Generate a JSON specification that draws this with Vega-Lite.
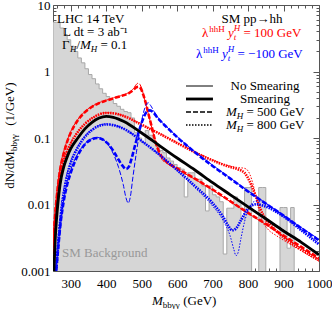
{
"$schema":"https://vega.github.io/schema/vega-lite/v6.json",
"width":266,"height":266,
"autosize":{"type":"none"},
"padding":{"left":53,"top":5,"right":13,"bottom":38},
"config":{"view":{"stroke":"#555","strokeWidth":1},"font":"Liberation Serif","text":{"font":"Liberation Serif","fontSize":13}},
"resolve":{"axis":{"x":"independent","y":"independent"}},
"datasets":{
"bkg":[{"m":250,"v":5.5},{"m":260,"v":5.5},{"m":270,"v":4.5},{"m":280,"v":3.6},{"m":290,"v":3.0},{"m":300,"v":2.4},{"m":310,"v":2.0},{"m":320,"v":1.6},{"m":330,"v":1.35},{"m":340,"v":1.1},{"m":350,"v":0.9},{"m":360,"v":0.78},{"m":370,"v":0.65},{"m":380,"v":0.55},{"m":390,"v":0.47},{"m":400,"v":0.42},{"m":410,"v":0.38},{"m":420,"v":0.33},{"m":430,"v":0.3},{"m":440,"v":0.27},{"m":450,"v":0.25},{"m":460,"v":0.24},{"m":470,"v":0.2},{"m":480,"v":0.12},{"m":490,"v":0.1},{"m":500,"v":0.085},{"m":510,"v":0.13},{"m":520,"v":0.11},{"m":530,"v":0.09},{"m":540,"v":0.075},{"m":550,"v":0.065},{"m":560,"v":0.06},{"m":570,"v":0.05},{"m":580,"v":0.045},{"m":590,"v":0.04},{"m":600,"v":0.036},{"m":610,"v":0.034},{"m":620,"v":0.013},{"m":630,"v":0.03},{"m":640,"v":0.03},{"m":650,"v":0.024},{"m":660,"v":0.024},{"m":670,"v":0.019},{"m":680,"v":0.008},{"m":690,"v":0.019},{"m":700,"v":0.014},{"m":710,"v":0.013},{"m":720,"v":0.011},{"m":730,"v":0.0018},{"m":740,"v":0.0088},{"m":750,"v":0.0088},{"m":760,"v":0.013},{"m":770,"v":0.011},{"m":780,"v":0.006},{"m":790,"v":0.018},{"m":800,"v":0.018},{"m":810,"v":0.0001},{"m":820,"v":0.0001},{"m":830,"v":0.018},{"m":840,"v":0.018},{"m":850,"v":0.0001},{"m":860,"v":0.0001},{"m":870,"v":0.0001},{"m":880,"v":0.0001},{"m":890,"v":0.009},{"m":900,"v":0.009},{"m":910,"v":0.0022},{"m":920,"v":0.009},{"m":930,"v":0.0001},{"m":1000,"v":0.0001}],
"sm0":[{"m":250,"v":0.0004},{"m":252,"v":0.0012},{"m":255,"v":0.003},{"m":258,"v":0.0058},{"m":261,"v":0.0095},{"m":265,"v":0.015},{"m":270,"v":0.023},{"m":280,"v":0.039},{"m":290,"v":0.055},{"m":300,"v":0.071},{"m":320,"v":0.102},{"m":340,"v":0.138},{"m":360,"v":0.172},{"m":380,"v":0.198},{"m":400,"v":0.21},{"m":420,"v":0.205},{"m":450,"v":0.178},{"m":500,"v":0.12},{"m":550,"v":0.078},{"m":600,"v":0.05},{"m":650,"v":0.033},{"m":700,"v":0.0215},{"m":750,"v":0.0142},{"m":800,"v":0.0094},{"m":850,"v":0.0062},{"m":900,"v":0.0041},{"m":950,"v":0.0027},{"m":1000,"v":0.0018}],
"sm1":[{"m":250,"v":0.0003},{"m":253,"v":0.0011},{"m":256,"v":0.0028},{"m":260,"v":0.006},{"m":265,"v":0.012},{"m":270,"v":0.02},{"m":280,"v":0.036},{"m":290,"v":0.052},{"m":300,"v":0.069},{"m":320,"v":0.1},{"m":340,"v":0.137},{"m":360,"v":0.172},{"m":380,"v":0.2},{"m":400,"v":0.212},{"m":420,"v":0.205},{"m":450,"v":0.177},{"m":500,"v":0.119},{"m":550,"v":0.077},{"m":600,"v":0.05},{"m":650,"v":0.033},{"m":700,"v":0.0213},{"m":750,"v":0.014},{"m":800,"v":0.0092},{"m":850,"v":0.0061},{"m":900,"v":0.004},{"m":950,"v":0.0027},{"m":1000,"v":0.00175}],
"r5t":[{"m":250,"v":0.0025},{"m":253,"v":0.005},{"m":256,"v":0.008},{"m":260,"v":0.014},{"m":270,"v":0.036},{"m":280,"v":0.062},{"m":290,"v":0.092},{"m":300,"v":0.125},{"m":320,"v":0.19},{"m":340,"v":0.25},{"m":360,"v":0.3},{"m":380,"v":0.34},{"m":400,"v":0.37},{"m":420,"v":0.4},{"m":440,"v":0.43},{"m":460,"v":0.47},{"m":475,"v":0.54},{"m":484,"v":0.63},{"m":490,"v":0.67},{"m":495,"v":0.64},{"m":500,"v":0.56},{"m":505,"v":0.45},{"m":510,"v":0.35},{"m":518,"v":0.24},{"m":525,"v":0.17},{"m":532,"v":0.12},{"m":540,"v":0.085},{"m":548,"v":0.062},{"m":557,"v":0.048},{"m":570,"v":0.042},{"m":600,"v":0.034},{"m":650,"v":0.024},{"m":700,"v":0.0165},{"m":750,"v":0.011},{"m":800,"v":0.0074},{"m":850,"v":0.005},{"m":900,"v":0.0033},{"m":950,"v":0.0022},{"m":1000,"v":0.0015}],
"r5s":[{"m":250,"v":0.0018},{"m":253,"v":0.004},{"m":256,"v":0.007},{"m":260,"v":0.012},{"m":270,"v":0.033},{"m":280,"v":0.058},{"m":290,"v":0.088},{"m":300,"v":0.12},{"m":320,"v":0.185},{"m":340,"v":0.245},{"m":360,"v":0.295},{"m":380,"v":0.335},{"m":400,"v":0.365},{"m":420,"v":0.395},{"m":440,"v":0.425},{"m":460,"v":0.46},{"m":475,"v":0.52},{"m":485,"v":0.58},{"m":492,"v":0.59},{"m":498,"v":0.55},{"m":505,"v":0.44},{"m":512,"v":0.33},{"m":520,"v":0.22},{"m":528,"v":0.15},{"m":536,"v":0.1},{"m":545,"v":0.07},{"m":555,"v":0.054},{"m":570,"v":0.044},{"m":600,"v":0.035},{"m":650,"v":0.0245},{"m":700,"v":0.0168},{"m":750,"v":0.0112},{"m":800,"v":0.0075},{"m":850,"v":0.0051},{"m":900,"v":0.0034},{"m":950,"v":0.0023},{"m":1000,"v":0.00155}],
"r8t":[{"m":250,"v":0.0018},{"m":253,"v":0.004},{"m":256,"v":0.0065},{"m":260,"v":0.011},{"m":270,"v":0.028},{"m":280,"v":0.047},{"m":290,"v":0.066},{"m":300,"v":0.085},{"m":320,"v":0.125},{"m":340,"v":0.165},{"m":360,"v":0.2},{"m":380,"v":0.228},{"m":400,"v":0.24},{"m":420,"v":0.237},{"m":450,"v":0.215},{"m":500,"v":0.16},{"m":550,"v":0.118},{"m":600,"v":0.085},{"m":650,"v":0.062},{"m":700,"v":0.047},{"m":740,"v":0.039},{"m":770,"v":0.036},{"m":790,"v":0.035},{"m":800,"v":0.032},{"m":810,"v":0.024},{"m":820,"v":0.015},{"m":830,"v":0.0085},{"m":840,"v":0.0057},{"m":855,"v":0.0043},{"m":880,"v":0.0034},{"m":900,"v":0.0029},{"m":950,"v":0.002},{"m":1000,"v":0.0014}],
"r8s":[{"m":250,"v":0.0014},{"m":253,"v":0.0033},{"m":256,"v":0.0058},{"m":260,"v":0.01},{"m":270,"v":0.026},{"m":280,"v":0.045},{"m":290,"v":0.064},{"m":300,"v":0.083},{"m":320,"v":0.123},{"m":340,"v":0.163},{"m":360,"v":0.198},{"m":380,"v":0.226},{"m":400,"v":0.238},{"m":420,"v":0.235},{"m":450,"v":0.213},{"m":500,"v":0.158},{"m":550,"v":0.116},{"m":600,"v":0.084},{"m":650,"v":0.061},{"m":700,"v":0.046},{"m":740,"v":0.038},{"m":770,"v":0.034},{"m":790,"v":0.03},{"m":805,"v":0.022},{"m":820,"v":0.014},{"m":835,"v":0.0085},{"m":850,"v":0.006},{"m":870,"v":0.0045},{"m":900,"v":0.0032},{"m":950,"v":0.0021},{"m":1000,"v":0.00145}],
"b5t":[{"m":255,"v":0.0006},{"m":258,"v":0.001},{"m":262,"v":0.0017},{"m":268,"v":0.0035},{"m":275,"v":0.0075},{"m":285,"v":0.016},{"m":300,"v":0.033},{"m":320,"v":0.058},{"m":340,"v":0.082},{"m":360,"v":0.098},{"m":375,"v":0.102},{"m":390,"v":0.096},{"m":405,"v":0.08},{"m":420,"v":0.058},{"m":435,"v":0.036},{"m":448,"v":0.02},{"m":456,"v":0.0125},{"m":462,"v":0.0105},{"m":468,"v":0.013},{"m":475,"v":0.025},{"m":485,"v":0.06},{"m":495,"v":0.13},{"m":505,"v":0.24},{"m":512,"v":0.31},{"m":518,"v":0.34},{"m":525,"v":0.31},{"m":535,"v":0.25},{"m":550,"v":0.19},{"m":575,"v":0.14},{"m":600,"v":0.105},{"m":650,"v":0.062},{"m":700,"v":0.039},{"m":750,"v":0.025},{"m":800,"v":0.016},{"m":850,"v":0.0105},{"m":900,"v":0.0069},{"m":950,"v":0.0045},{"m":1000,"v":0.003}],
"b5s":[{"m":255,"v":0.0005},{"m":259,"v":0.001},{"m":264,"v":0.002},{"m":270,"v":0.0045},{"m":280,"v":0.011},{"m":290,"v":0.02},{"m":300,"v":0.03},{"m":320,"v":0.055},{"m":340,"v":0.08},{"m":360,"v":0.096},{"m":375,"v":0.1},{"m":390,"v":0.095},{"m":405,"v":0.082},{"m":420,"v":0.064},{"m":435,"v":0.047},{"m":448,"v":0.037},{"m":456,"v":0.034},{"m":464,"v":0.037},{"m":472,"v":0.05},{"m":482,"v":0.08},{"m":495,"v":0.14},{"m":505,"v":0.2},{"m":515,"v":0.25},{"m":523,"v":0.26},{"m":532,"v":0.245},{"m":545,"v":0.2},{"m":560,"v":0.165},{"m":580,"v":0.13},{"m":600,"v":0.103},{"m":650,"v":0.061},{"m":700,"v":0.038},{"m":750,"v":0.0245},{"m":800,"v":0.0157},{"m":850,"v":0.0103},{"m":900,"v":0.0068},{"m":950,"v":0.0044},{"m":1000,"v":0.0029}],
"b8t":[{"m":255,"v":0.0006},{"m":258,"v":0.0012},{"m":262,"v":0.0025},{"m":267,"v":0.005},{"m":272,"v":0.009},{"m":280,"v":0.017},{"m":290,"v":0.03},{"m":300,"v":0.045},{"m":320,"v":0.075},{"m":340,"v":0.107},{"m":360,"v":0.135},{"m":380,"v":0.155},{"m":400,"v":0.163},{"m":420,"v":0.158},{"m":450,"v":0.138},{"m":500,"v":0.09},{"m":550,"v":0.056},{"m":600,"v":0.032},{"m":650,"v":0.018},{"m":700,"v":0.0095},{"m":730,"v":0.0057},{"m":750,"v":0.0033},{"m":760,"v":0.0021},{"m":766,"v":0.0017},{"m":772,"v":0.0019},{"m":780,"v":0.0031},{"m":790,"v":0.0055},{"m":805,"v":0.0092},{"m":820,"v":0.0112},{"m":835,"v":0.0112},{"m":850,"v":0.0102},{"m":900,"v":0.0068},{"m":950,"v":0.0042},{"m":1000,"v":0.0026}],
"b8s":[{"m":255,"v":0.0005},{"m":259,"v":0.001},{"m":264,"v":0.0022},{"m":270,"v":0.005},{"m":280,"v":0.014},{"m":290,"v":0.027},{"m":300,"v":0.042},{"m":320,"v":0.072},{"m":340,"v":0.104},{"m":360,"v":0.132},{"m":380,"v":0.152},{"m":400,"v":0.16},{"m":420,"v":0.156},{"m":450,"v":0.137},{"m":500,"v":0.09},{"m":550,"v":0.056},{"m":600,"v":0.033},{"m":650,"v":0.019},{"m":700,"v":0.0105},{"m":730,"v":0.0065},{"m":745,"v":0.0047},{"m":755,"v":0.0041},{"m":765,"v":0.0043},{"m":780,"v":0.0058},{"m":795,"v":0.008},{"m":810,"v":0.0096},{"m":825,"v":0.0101},{"m":845,"v":0.0095},{"m":900,"v":0.0066},{"m":950,"v":0.0041},{"m":1000,"v":0.0025}]
},
"layer":[
{"data":{"name":"bkg"},"mark":{"type":"area","interpolate":"step-after","fill":"#d6d6d6","stroke":"#a8a8a8","strokeWidth":1,"clip":true},
 "encoding":{
  "x":{"field":"m","type":"quantitative","scale":{"domain":[250,1000],"nice":false,"zero":false},
   "axis":{"orient":"bottom","title":null,"domain":false,"grid":false,"values":[260,280,300,320,340,360,380,400,420,440,460,480,500,520,540,560,580,600,620,640,660,680,700,720,740,760,780,800,820,840,860,880,900,920,940,960,980,1000],
   "tickSize":{"condition":{"test":"datum.value % 100 === 0","value":-6},"value":-3},"tickColor":"#555",
   "labelExpr":"datum.value % 100 === 0 ? datum.label : ''","labelPadding":12,"labelFontSize":13,"labelFont":"Liberation Serif","labelColor":"#000","labelFlush":false,"labelOverlap":false,"format":"d"}},
  "y":{"field":"v","type":"quantitative","scale":{"type":"log","domain":[0.001,10],"nice":false},
   "axis":{"orient":"left","title":null,"domain":false,"grid":false,"values":[0.001,0.002,0.003,0.004,0.005,0.006,0.007,0.008,0.009,0.01,0.02,0.03,0.04,0.05,0.06,0.07,0.08,0.09,0.1,0.2,0.3,0.4,0.5,0.6,0.7,0.8,0.9,1,2,3,4,5,6,7,8,9,10],
   "tickSize":{"condition":{"test":"indexof([0.001,0.01,0.1,1,10], datum.value) >= 0","value":-6},"value":-3},"tickColor":"#555",
   "labelExpr":"indexof([0.001,0.01,0.1,1,10], datum.value) >= 0 ? datum.label : ''","labelPadding":9,"labelFontSize":13,"labelFont":"Liberation Serif","labelColor":"#000","labelFlush":false,"labelOverlap":false,"format":"~g"}},
  "y2":{"datum":0.0001}}},
{"data":{"name":"r5t"},"mark":{"type":"line","color":"#ff0000","strokeWidth":1,"strokeDash":[5,2],"interpolate":"monotone","clip":true},"encoding":{"x":{"field":"m","type":"quantitative","scale":{"domain":[250,1000],"nice":false,"zero":false},"axis":null},"y":{"field":"v","type":"quantitative","scale":{"type":"log","domain":[0.001,10],"nice":false},"axis":null}}},
{"data":{"name":"r5s"},"mark":{"type":"line","color":"#ff0000","strokeWidth":2.6,"strokeDash":[5,2],"interpolate":"monotone","clip":true},"encoding":{"x":{"field":"m","type":"quantitative","scale":{"domain":[250,1000],"nice":false,"zero":false},"axis":null},"y":{"field":"v","type":"quantitative","scale":{"type":"log","domain":[0.001,10],"nice":false},"axis":null}}},
{"data":{"name":"r8t"},"mark":{"type":"line","color":"#ff0000","strokeWidth":1,"strokeDash":[1.5,1.5],"interpolate":"monotone","clip":true},"encoding":{"x":{"field":"m","type":"quantitative","scale":{"domain":[250,1000],"nice":false,"zero":false},"axis":null},"y":{"field":"v","type":"quantitative","scale":{"type":"log","domain":[0.001,10],"nice":false},"axis":null}}},
{"data":{"name":"r8s"},"mark":{"type":"line","color":"#ff0000","strokeWidth":2.6,"strokeDash":[1.5,1],"interpolate":"monotone","clip":true},"encoding":{"x":{"field":"m","type":"quantitative","scale":{"domain":[250,1000],"nice":false,"zero":false},"axis":null},"y":{"field":"v","type":"quantitative","scale":{"type":"log","domain":[0.001,10],"nice":false},"axis":null}}},
{"data":{"name":"b5t"},"mark":{"type":"line","color":"#0000ff","strokeWidth":1,"strokeDash":[5,2],"interpolate":"monotone","clip":true},"encoding":{"x":{"field":"m","type":"quantitative","scale":{"domain":[250,1000],"nice":false,"zero":false},"axis":null},"y":{"field":"v","type":"quantitative","scale":{"type":"log","domain":[0.001,10],"nice":false},"axis":null}}},
{"data":{"name":"b5s"},"mark":{"type":"line","color":"#0000ff","strokeWidth":2.6,"strokeDash":[5,2],"interpolate":"monotone","clip":true},"encoding":{"x":{"field":"m","type":"quantitative","scale":{"domain":[250,1000],"nice":false,"zero":false},"axis":null},"y":{"field":"v","type":"quantitative","scale":{"type":"log","domain":[0.001,10],"nice":false},"axis":null}}},
{"data":{"name":"b8t"},"mark":{"type":"line","color":"#0000ff","strokeWidth":1,"strokeDash":[1.5,1.5],"interpolate":"monotone","clip":true},"encoding":{"x":{"field":"m","type":"quantitative","scale":{"domain":[250,1000],"nice":false,"zero":false},"axis":null},"y":{"field":"v","type":"quantitative","scale":{"type":"log","domain":[0.001,10],"nice":false},"axis":null}}},
{"data":{"name":"b8s"},"mark":{"type":"line","color":"#0000ff","strokeWidth":2.6,"strokeDash":[1.5,1],"interpolate":"monotone","clip":true},"encoding":{"x":{"field":"m","type":"quantitative","scale":{"domain":[250,1000],"nice":false,"zero":false},"axis":null},"y":{"field":"v","type":"quantitative","scale":{"type":"log","domain":[0.001,10],"nice":false},"axis":null}}},
{"data":{"name":"sm0"},"mark":{"type":"line","color":"#000","strokeWidth":1,"interpolate":"monotone","clip":true},"encoding":{"x":{"field":"m","type":"quantitative","scale":{"domain":[250,1000],"nice":false,"zero":false},
   "axis":{"orient":"top","title":null,"domain":false,"grid":false,"labels":false,"values":[260,280,300,320,340,360,380,400,420,440,460,480,500,520,540,560,580,600,620,640,660,680,700,720,740,760,780,800,820,840,860,880,900,920,940,960,980,1000],"tickSize":{"condition":{"test":"datum.value % 100 === 0","value":-6},"value":-3},"tickColor":"#555"}},
 "y":{"field":"v","type":"quantitative","scale":{"type":"log","domain":[0.001,10],"nice":false},
   "axis":{"orient":"right","title":null,"domain":false,"grid":false,"labels":false,"values":[0.001,0.002,0.003,0.004,0.005,0.006,0.007,0.008,0.009,0.01,0.02,0.03,0.04,0.05,0.06,0.07,0.08,0.09,0.1,0.2,0.3,0.4,0.5,0.6,0.7,0.8,0.9,1,2,3,4,5,6,7,8,9,10],"tickSize":{"condition":{"test":"indexof([0.001,0.01,0.1,1,10], datum.value) >= 0","value":-6},"value":-3},"tickColor":"#555"}}}},
{"data":{"name":"sm1"},"mark":{"type":"line","color":"#000","strokeWidth":2.8,"interpolate":"monotone","clip":true},"encoding":{"x":{"field":"m","type":"quantitative","scale":{"domain":[250,1000],"nice":false,"zero":false},"axis":null},"y":{"field":"v","type":"quantitative","scale":{"type":"log","domain":[0.001,10],"nice":false},"axis":null}}},
{"data":{"values":[{}]},"mark":{"type":"rule","color":"#000","strokeWidth":1},"encoding":{"x":{"datum":625,"type":"quantitative","scale":{"domain":[250,1000],"nice":false,"zero":false},"axis":null},"x2":{"datum":701},"y":{"datum":0.605,"type":"quantitative","scale":{"type":"log","domain":[0.001,10],"nice":false},"axis":null}}},
{"data":{"values":[{}]},"mark":{"type":"rule","color":"#000","strokeWidth":2.8},"encoding":{"x":{"datum":625,"type":"quantitative","scale":{"domain":[250,1000],"nice":false,"zero":false},"axis":null},"x2":{"datum":701},"y":{"datum":0.386,"type":"quantitative","scale":{"type":"log","domain":[0.001,10],"nice":false},"axis":null}}},
{"data":{"values":[{}]},"mark":{"type":"rule","color":"#000","strokeWidth":1.5,"strokeDash":[5,2]},"encoding":{"x":{"datum":625,"type":"quantitative","scale":{"domain":[250,1000],"nice":false,"zero":false},"axis":null},"x2":{"datum":701},"y":{"datum":0.246,"type":"quantitative","scale":{"type":"log","domain":[0.001,10],"nice":false},"axis":null}}},
{"data":{"values":[{}]},"mark":{"type":"rule","color":"#000","strokeWidth":1.5,"strokeDash":[1.5,1.5]},"encoding":{"x":{"datum":625,"type":"quantitative","scale":{"domain":[250,1000],"nice":false,"zero":false},"axis":null},"x2":{"datum":701},"y":{"datum":0.157,"type":"quantitative","scale":{"type":"log","domain":[0.001,10],"nice":false},"axis":null}}},
{"data":{"values":[{}]},"mark":{"type":"text","text":"LHC 14 TeV","align":"left","baseline":"alphabetic"},"encoding":{"x":{"datum":261.3,"type":"quantitative","scale":{"domain":[250,1000],"nice":false,"zero":false},"axis":null},"y":{"datum":5.36,"type":"quantitative","scale":{"type":"log","domain":[0.001,10],"nice":false},"axis":null}}},
{"data":{"values":[{}]},"mark":{"type":"text","text":"L dt = 3 ab⁻¹","align":"left","baseline":"alphabetic"},"encoding":{"x":{"datum":278.2,"type":"quantitative","scale":{"domain":[250,1000],"nice":false,"zero":false},"axis":null},"y":{"datum":3.42,"type":"quantitative","scale":{"type":"log","domain":[0.001,10],"nice":false},"axis":null}}},
{"data":{"values":[{}]},"mark":{"type":"text","text":"Γ","align":"left","baseline":"alphabetic"},"encoding":{"x":{"datum":275.4,"type":"quantitative","scale":{"domain":[250,1000],"nice":false,"zero":false},"axis":null},"y":{"datum":2.18,"type":"quantitative","scale":{"type":"log","domain":[0.001,10],"nice":false},"axis":null}}},
{"data":{"values":[{}]},"mark":{"type":"text","text":"H","align":"left","baseline":"alphabetic","fontSize":9,"fontStyle":"italic"},"encoding":{"x":{"datum":297.6,"type":"quantitative","scale":{"domain":[250,1000],"nice":false,"zero":false},"axis":null},"y":{"datum":1.965,"type":"quantitative","scale":{"type":"log","domain":[0.001,10],"nice":false},"axis":null}}},
{"data":{"values":[{}]},"mark":{"type":"text","text":"/","align":"left","baseline":"alphabetic"},"encoding":{"x":{"datum":316,"type":"quantitative","scale":{"domain":[250,1000],"nice":false,"zero":false},"axis":null},"y":{"datum":2.18,"type":"quantitative","scale":{"type":"log","domain":[0.001,10],"nice":false},"axis":null}}},
{"data":{"values":[{}]},"mark":{"type":"text","text":"M","align":"left","baseline":"alphabetic","fontStyle":"italic"},"encoding":{"x":{"datum":326.1,"type":"quantitative","scale":{"domain":[250,1000],"nice":false,"zero":false},"axis":null},"y":{"datum":2.18,"type":"quantitative","scale":{"type":"log","domain":[0.001,10],"nice":false},"axis":null}}},
{"data":{"values":[{}]},"mark":{"type":"text","text":"H","align":"left","baseline":"alphabetic","fontSize":9,"fontStyle":"italic"},"encoding":{"x":{"datum":356.6,"type":"quantitative","scale":{"domain":[250,1000],"nice":false,"zero":false},"axis":null},"y":{"datum":1.965,"type":"quantitative","scale":{"type":"log","domain":[0.001,10],"nice":false},"axis":null}}},
{"data":{"values":[{}]},"mark":{"type":"text","text":"= 0.1","align":"left","baseline":"alphabetic"},"encoding":{"x":{"datum":383.9,"type":"quantitative","scale":{"domain":[250,1000],"nice":false,"zero":false},"axis":null},"y":{"datum":2.18,"type":"quantitative","scale":{"type":"log","domain":[0.001,10],"nice":false},"axis":null}}},
{"data":{"values":[{}]},"mark":{"type":"text","text":"SM pp→hh","align":"center","baseline":"alphabetic"},"encoding":{"x":{"datum":811.1,"type":"quantitative","scale":{"domain":[250,1000],"nice":false,"zero":false},"axis":null},"y":{"datum":5.36,"type":"quantitative","scale":{"type":"log","domain":[0.001,10],"nice":false},"axis":null}}},
{"data":{"values":[{}]},"mark":{"type":"text","text":"λ","align":"left","baseline":"alphabetic","color":"#ff0000"},"encoding":{"x":{"datum":670.1,"type":"quantitative","scale":{"domain":[250,1000],"nice":false,"zero":false},"axis":null},"y":{"datum":3.3,"type":"quantitative","scale":{"type":"log","domain":[0.001,10],"nice":false},"axis":null}}},
{"data":{"values":[{}]},"mark":{"type":"text","text":"hhH","align":"left","baseline":"alphabetic","fontSize":9,"color":"#ff0000"},"encoding":{"x":{"datum":690.4,"type":"quantitative","scale":{"domain":[250,1000],"nice":false,"zero":false},"axis":null},"y":{"datum":3.93,"type":"quantitative","scale":{"type":"log","domain":[0.001,10],"nice":false},"axis":null}}},
{"data":{"values":[{}]},"mark":{"type":"text","text":"y","align":"left","baseline":"alphabetic","fontStyle":"italic","color":"#ff0000"},"encoding":{"x":{"datum":743.4,"type":"quantitative","scale":{"domain":[250,1000],"nice":false,"zero":false},"axis":null},"y":{"datum":3.3,"type":"quantitative","scale":{"type":"log","domain":[0.001,10],"nice":false},"axis":null}}},
{"data":{"values":[{}]},"mark":{"type":"text","text":"t","align":"left","baseline":"alphabetic","fontSize":9,"fontStyle":"italic","color":"#ff0000"},"encoding":{"x":{"datum":759.8,"type":"quantitative","scale":{"domain":[250,1000],"nice":false,"zero":false},"axis":null},"y":{"datum":2.977,"type":"quantitative","scale":{"type":"log","domain":[0.001,10],"nice":false},"axis":null}}},
{"data":{"values":[{}]},"mark":{"type":"text","text":"H","align":"left","baseline":"alphabetic","fontSize":9,"fontStyle":"italic","color":"#ff0000"},"encoding":{"x":{"datum":759.8,"type":"quantitative","scale":{"domain":[250,1000],"nice":false,"zero":false},"axis":null},"y":{"datum":4.06,"type":"quantitative","scale":{"type":"log","domain":[0.001,10],"nice":false},"axis":null}}},
{"data":{"values":[{}]},"mark":{"type":"text","text":"= 100 GeV","align":"left","baseline":"alphabetic","color":"#ff0000"},"encoding":{"x":{"datum":787.1,"type":"quantitative","scale":{"domain":[250,1000],"nice":false,"zero":false},"axis":null},"y":{"datum":3.3,"type":"quantitative","scale":{"type":"log","domain":[0.001,10],"nice":false},"axis":null}}},
{"data":{"values":[{}]},"mark":{"type":"text","text":"λ","align":"left","baseline":"alphabetic","color":"#0000ff"},"encoding":{"x":{"datum":653.2,"type":"quantitative","scale":{"domain":[250,1000],"nice":false,"zero":false},"axis":null},"y":{"datum":1.596,"type":"quantitative","scale":{"type":"log","domain":[0.001,10],"nice":false},"axis":null}}},
{"data":{"values":[{}]},"mark":{"type":"text","text":"hhH","align":"left","baseline":"alphabetic","fontSize":9,"color":"#0000ff"},"encoding":{"x":{"datum":673.5,"type":"quantitative","scale":{"domain":[250,1000],"nice":false,"zero":false},"axis":null},"y":{"datum":1.898,"type":"quantitative","scale":{"type":"log","domain":[0.001,10],"nice":false},"axis":null}}},
{"data":{"values":[{}]},"mark":{"type":"text","text":"y","align":"left","baseline":"alphabetic","fontStyle":"italic","color":"#0000ff"},"encoding":{"x":{"datum":726.5,"type":"quantitative","scale":{"domain":[250,1000],"nice":false,"zero":false},"axis":null},"y":{"datum":1.596,"type":"quantitative","scale":{"type":"log","domain":[0.001,10],"nice":false},"axis":null}}},
{"data":{"values":[{}]},"mark":{"type":"text","text":"t","align":"left","baseline":"alphabetic","fontSize":9,"fontStyle":"italic","color":"#0000ff"},"encoding":{"x":{"datum":742.8,"type":"quantitative","scale":{"domain":[250,1000],"nice":false,"zero":false},"axis":null},"y":{"datum":1.438,"type":"quantitative","scale":{"type":"log","domain":[0.001,10],"nice":false},"axis":null}}},
{"data":{"values":[{}]},"mark":{"type":"text","text":"H","align":"left","baseline":"alphabetic","fontSize":9,"fontStyle":"italic","color":"#0000ff"},"encoding":{"x":{"datum":742.8,"type":"quantitative","scale":{"domain":[250,1000],"nice":false,"zero":false},"axis":null},"y":{"datum":1.965,"type":"quantitative","scale":{"type":"log","domain":[0.001,10],"nice":false},"axis":null}}},
{"data":{"values":[{}]},"mark":{"type":"text","text":"= −100 GeV","align":"left","baseline":"alphabetic","color":"#0000ff"},"encoding":{"x":{"datum":770.2,"type":"quantitative","scale":{"domain":[250,1000],"nice":false,"zero":false},"axis":null},"y":{"datum":1.596,"type":"quantitative","scale":{"type":"log","domain":[0.001,10],"nice":false},"axis":null}}},
{"data":{"values":[{}]},"mark":{"type":"text","text":"No Smearing","align":"center","baseline":"alphabetic"},"encoding":{"x":{"datum":847.7,"type":"quantitative","scale":{"domain":[250,1000],"nice":false,"zero":false},"axis":null},"y":{"datum":0.522,"type":"quantitative","scale":{"type":"log","domain":[0.001,10],"nice":false},"axis":null}}},
{"data":{"values":[{}]},"mark":{"type":"text","text":"Smearing","align":"center","baseline":"alphabetic"},"encoding":{"x":{"datum":847.7,"type":"quantitative","scale":{"domain":[250,1000],"nice":false,"zero":false},"axis":null},"y":{"datum":0.3324,"type":"quantitative","scale":{"type":"log","domain":[0.001,10],"nice":false},"axis":null}}},
{"data":{"values":[{}]},"mark":{"type":"text","text":"M","align":"left","baseline":"alphabetic","fontStyle":"italic"},"encoding":{"x":{"datum":737.8,"type":"quantitative","scale":{"domain":[250,1000],"nice":false,"zero":false},"axis":null},"y":{"datum":0.212,"type":"quantitative","scale":{"type":"log","domain":[0.001,10],"nice":false},"axis":null}}},
{"data":{"values":[{}]},"mark":{"type":"text","text":"H","align":"left","baseline":"alphabetic","fontSize":9,"fontStyle":"italic"},"encoding":{"x":{"datum":768.2,"type":"quantitative","scale":{"domain":[250,1000],"nice":false,"zero":false},"axis":null},"y":{"datum":0.191,"type":"quantitative","scale":{"type":"log","domain":[0.001,10],"nice":false},"axis":null}}},
{"data":{"values":[{}]},"mark":{"type":"text","text":"= 500 GeV","align":"left","baseline":"alphabetic"},"encoding":{"x":{"datum":795.6,"type":"quantitative","scale":{"domain":[250,1000],"nice":false,"zero":false},"axis":null},"y":{"datum":0.212,"type":"quantitative","scale":{"type":"log","domain":[0.001,10],"nice":false},"axis":null}}},
{"data":{"values":[{}]},"mark":{"type":"text","text":"M","align":"left","baseline":"alphabetic","fontStyle":"italic"},"encoding":{"x":{"datum":737.8,"type":"quantitative","scale":{"domain":[250,1000],"nice":false,"zero":false},"axis":null},"y":{"datum":0.1351,"type":"quantitative","scale":{"type":"log","domain":[0.001,10],"nice":false},"axis":null}}},
{"data":{"values":[{}]},"mark":{"type":"text","text":"H","align":"left","baseline":"alphabetic","fontSize":9,"fontStyle":"italic"},"encoding":{"x":{"datum":768.2,"type":"quantitative","scale":{"domain":[250,1000],"nice":false,"zero":false},"axis":null},"y":{"datum":0.1218,"type":"quantitative","scale":{"type":"log","domain":[0.001,10],"nice":false},"axis":null}}},
{"data":{"values":[{}]},"mark":{"type":"text","text":"= 800 GeV","align":"left","baseline":"alphabetic"},"encoding":{"x":{"datum":795.6,"type":"quantitative","scale":{"domain":[250,1000],"nice":false,"zero":false},"axis":null},"y":{"datum":0.1351,"type":"quantitative","scale":{"type":"log","domain":[0.001,10],"nice":false},"axis":null}}},
{"data":{"values":[{}]},"mark":{"type":"text","text":"SM Background","align":"left","baseline":"alphabetic","color":"#999999"},"encoding":{"x":{"datum":275.4,"type":"quantitative","scale":{"domain":[250,1000],"nice":false,"zero":false},"axis":null},"y":{"datum":0.001624,"type":"quantitative","scale":{"type":"log","domain":[0.001,10],"nice":false},"axis":null}}},
{"data":{"values":[{}]},"mark":{"type":"text","text":"dN/dM","align":"left","baseline":"alphabetic","angle":270},"encoding":{"x":{"datum":140,"type":"quantitative","scale":{"domain":[250,1000],"nice":false,"zero":false},"axis":null},"y":{"datum":0.01728,"type":"quantitative","scale":{"type":"log","domain":[0.001,10],"nice":false},"axis":null}}},
{"data":{"values":[{}]},"mark":{"type":"text","text":"bbγγ","align":"left","baseline":"alphabetic","angle":270,"fontSize":9},"encoding":{"x":{"datum":148.5,"type":"quantitative","scale":{"domain":[250,1000],"nice":false,"zero":false},"axis":null},"y":{"datum":0.0635,"type":"quantitative","scale":{"type":"log","domain":[0.001,10],"nice":false},"axis":null}}},
{"data":{"values":[{}]},"mark":{"type":"text","text":"(1/GeV)","align":"left","baseline":"alphabetic","angle":270},"encoding":{"x":{"datum":140,"type":"quantitative","scale":{"domain":[250,1000],"nice":false,"zero":false},"axis":null},"y":{"datum":0.1528,"type":"quantitative","scale":{"type":"log","domain":[0.001,10],"nice":false},"axis":null}}},
{"data":{"values":[{}]},"mark":{"type":"text","text":"M","align":"left","baseline":"alphabetic","fontStyle":"italic"},"encoding":{"x":{"datum":529.1,"type":"quantitative","scale":{"domain":[250,1000],"nice":false,"zero":false},"axis":null},"y":{"datum":0.000308,"type":"quantitative","scale":{"type":"log","domain":[0.001,10],"nice":false},"axis":null}}},
{"data":{"values":[{}]},"mark":{"type":"text","text":"bbγγ","align":"left","baseline":"alphabetic","fontSize":9},"encoding":{"x":{"datum":559.6,"type":"quantitative","scale":{"domain":[250,1000],"nice":false,"zero":false},"axis":null},"y":{"datum":0.000278,"type":"quantitative","scale":{"type":"log","domain":[0.001,10],"nice":false},"axis":null}}},
{"data":{"values":[{}]},"mark":{"type":"text","text":"(GeV)","align":"left","baseline":"alphabetic"},"encoding":{"x":{"datum":617.1,"type":"quantitative","scale":{"domain":[250,1000],"nice":false,"zero":false},"axis":null},"y":{"datum":0.000308,"type":"quantitative","scale":{"type":"log","domain":[0.001,10],"nice":false},"axis":null}}}
]
}
